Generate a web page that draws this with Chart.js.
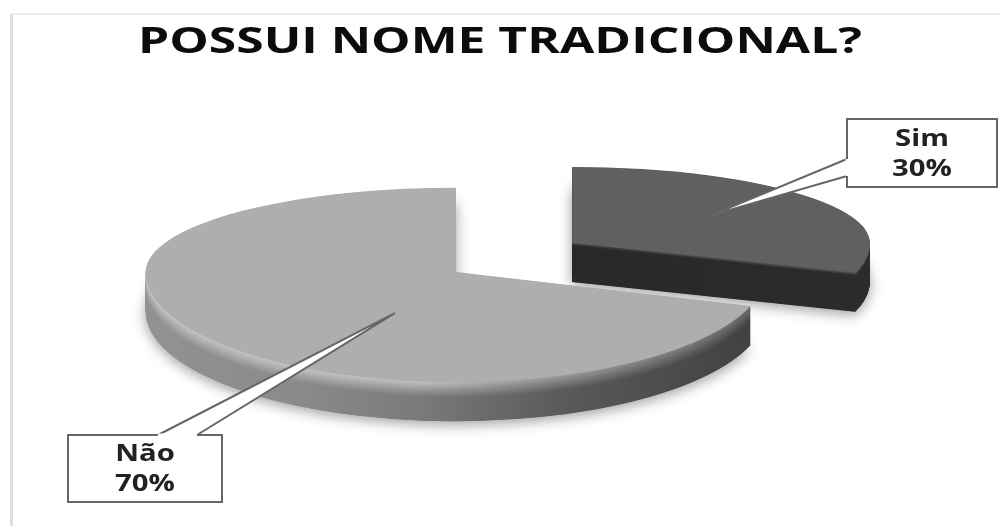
<!DOCTYPE html>
<html>
<head>
<meta charset="utf-8">
<title>Possui nome tradicional?</title>
<script src="https://cdn.jsdelivr.net/npm/chart.js@4/dist/chart.umd.min.js"></script>
<style>
    html, body { margin: 0; padding: 0; background: #fff; }
    #wrap { width: 1005px; height: 526px; }
</style>
</head>
<body>
<div id="wrap"><canvas id="pie" width="1005" height="526"></canvas></div>
<script>
const titleText = 'POSSUI NOME TRADICIONAL?';
const labels = ['Sim', 'Não'];
const values = [30, 70];

// Tilted pie geometry, the back half is flatter than the front one
const pie = { x: 514, y: 257.5, radius: 310, explode: 72, explodeSquash: 0.345, depth: 39 };

// Per slice look: size factor, flattening, top face grey and [x, wall grey, rim grey] shading
const faces = [
    { size: 0.96, back: 0.255, front: 0.325, top: 96, bevel: 3, wall: [[560, 40, 70], [870, 44, 90]] },
    { size: 1, back: 0.272, front: 0.355, top: 174, bevel: 15, wall: [[147, 146, 196], [300, 138, 196], [420, 122, 192], [560, 90, 155], [745, 66, 110]] }
];

// Callouts: box on the page, tip relative to the slice's corner
const callouts = [
    { box: [847, 119, 150, 68], base: [[847, 159], [847, 176]], tip: [140, -28] },
    { box: [68, 435, 154, 67], base: [[158, 435], [197, 435]], tip: [-61, 41] }
];

function grey(v) {
    const g = Math.round(v);
    return 'rgb(' + g + ',' + g + ',' + g + ')';
}

function sliceCorner(arc) {
    const mid = (arc.startAngle + arc.endAngle) / 2;
    return {
        x: pie.x + Math.cos(mid) * pie.explode,
        y: pie.y + Math.sin(mid) * pie.explode * pie.explodeSquash
    };
}

function drawFlat(ctx, arc, corner, d, style, squash) {
    ctx.translate(corner.x, corner.y + d);
    ctx.scale(style.size, style.size * squash);
    ctx.translate(-arc.x, -arc.y);
    arc.draw(ctx);
}

// Draws one arc element flattened, d pixels below the top face
function paintArc(chart, arc, corner, d, style, fill) {
    const ctx = chart.ctx;
    const saved = arc.options;
    arc.options = Object.assign({}, saved, { backgroundColor: fill, borderWidth: 0 });
    [style.back, style.front].forEach(function(squash, half) {
        const seam = corner.y + d;
        ctx.save();
        ctx.beginPath();
        if (half === 0) {
            ctx.rect(0, 0, chart.width, seam + 0.5);
        } else {
            ctx.rect(0, seam - 0.5, chart.width, chart.height);
        }
        ctx.clip();
        drawFlat(ctx, arc, corner, d, style, squash);
        ctx.restore();
    });
    arc.options = saved;
}

// Soft shadow under the slice, its shape stays hidden behind the slice itself
function paintShadow(chart, arc, corner, style) {
    const ctx = chart.ctx;
    const saved = arc.options;
    arc.options = Object.assign({}, saved, { backgroundColor: '#888', borderWidth: 0 });
    ctx.save();
    ctx.shadowColor = 'rgba(0,0,0,0.4)';
    ctx.shadowBlur = 14;
    ctx.shadowOffsetY = 3;
    drawFlat(ctx, arc, corner, pie.depth, style, style.front);
    ctx.restore();
    arc.options = saved;
}

function wallGradient(ctx, arc, corner, style, d) {
    const stops = style.wall;
    const x0 = stops[0][0];
    const x1 = stops[stops.length - 1][0];
    const toLocal = x => (x - corner.x) / style.size + arc.x;
    const grad = ctx.createLinearGradient(toLocal(x0), 0, toLocal(x1), 0);
    const t = Math.max(0, 1 - d / style.bevel);
    stops.forEach(function(s) {
        grad.addColorStop((s[0] - x0) / (x1 - x0), grey(s[1] + (s[2] - s[1]) * t));
    });
    return grad;
}

const tiltedPie = {
    id: 'tiltedPie',
    beforeDatasetsDraw(chart) {
        const arcs = chart.getDatasetMeta(0).data;
        arcs.forEach(function(arc, i) {
            const corner = sliceCorner(arc);
            const style = faces[i];
            paintShadow(chart, arc, corner, style);
            for (let d = pie.depth; d > 0; d -= 0.5) {
                paintArc(chart, arc, corner, d, style, wallGradient(chart.ctx, arc, corner, style, d));
            }
            paintArc(chart, arc, corner, 0, style, grey(style.top));
        });
        return false;
    }
};

// Wide bold text, the installed fonts are narrower than what this needs
function wideText(ctx, text, x, y, stretch) {
    ctx.save();
    ctx.translate(x, y);
    ctx.scale(stretch, 1);
    ctx.fillText(text, 0, 0);
    ctx.restore();
}

const calloutBoxes = {
    id: 'calloutBoxes',
    afterDraw(chart) {
        const ctx = chart.ctx;
        const arcs = chart.getDatasetMeta(0).data;
        ctx.save();
        ctx.textAlign = 'center';
        ctx.textBaseline = 'middle';

        ctx.fillStyle = '#0c0c0c';
        ctx.font = 'bold 36px "Open Sans"';
        wideText(ctx, titleText, 500, 43, 724 / ctx.measureText(titleText).width);

        callouts.forEach(function(c, i) {
            const corner = sliceCorner(arcs[i]);
            const [x, y, w, h] = c.box;
            ctx.fillStyle = '#fff';
            ctx.strokeStyle = '#666';
            ctx.lineWidth = 2;
            ctx.fillRect(x, y, w, h);
            ctx.strokeRect(x, y, w, h);
            // pointer, its base has no line against the box
            ctx.beginPath();
            ctx.moveTo(c.base[0][0], c.base[0][1]);
            ctx.lineTo(corner.x + c.tip[0], corner.y + c.tip[1]);
            ctx.lineTo(c.base[1][0], c.base[1][1]);
            ctx.fill();
            ctx.stroke();
            ctx.beginPath();
            ctx.moveTo(c.base[0][0], c.base[0][1]);
            ctx.lineTo(c.base[1][0], c.base[1][1]);
            ctx.lineWidth = 3;
            ctx.strokeStyle = '#fff';
            ctx.stroke();
            ctx.fillStyle = '#222';
            ctx.font = 'bold 24px "Open Sans"';
            wideText(ctx, labels[i], x + w / 2, y + h / 2 - 14, 1.22);
            wideText(ctx, values[i] + '%', x + w / 2, y + h / 2 + 16, 1.22);
        });
        ctx.restore();
    }
};

const pageFrame = {
    id: 'pageFrame',
    beforeDraw(chart) {
        const ctx = chart.ctx;
        ctx.save();
        ctx.fillStyle = '#fff';
        ctx.fillRect(0, 0, chart.width, chart.height);
        ctx.strokeStyle = '#ececec';
        ctx.lineWidth = 2;
        ctx.beginPath();
        ctx.moveTo(1000, 14);
        ctx.lineTo(11, 14);
        ctx.stroke();
        ctx.strokeStyle = '#dedede';
        ctx.lineWidth = 3;
        ctx.beginPath();
        ctx.moveTo(11.5, 14);
        ctx.lineTo(11.5, 526);
        ctx.stroke();
        ctx.restore();
    }
};

new Chart(document.getElementById('pie'), {
    type: 'pie',
    data: {
        labels: labels,
        datasets: [{ data: values, backgroundColor: faces.map(f => grey(f.top)), borderWidth: 0 }]
    },
    options: {
        responsive: false,
        animation: false,
        radius: pie.radius,
        plugins: {
            legend: { display: false },
            tooltip: { enabled: false }
        }
    },
    plugins: [pageFrame, tiltedPie, calloutBoxes]
});
</script>
</body>
</html>
